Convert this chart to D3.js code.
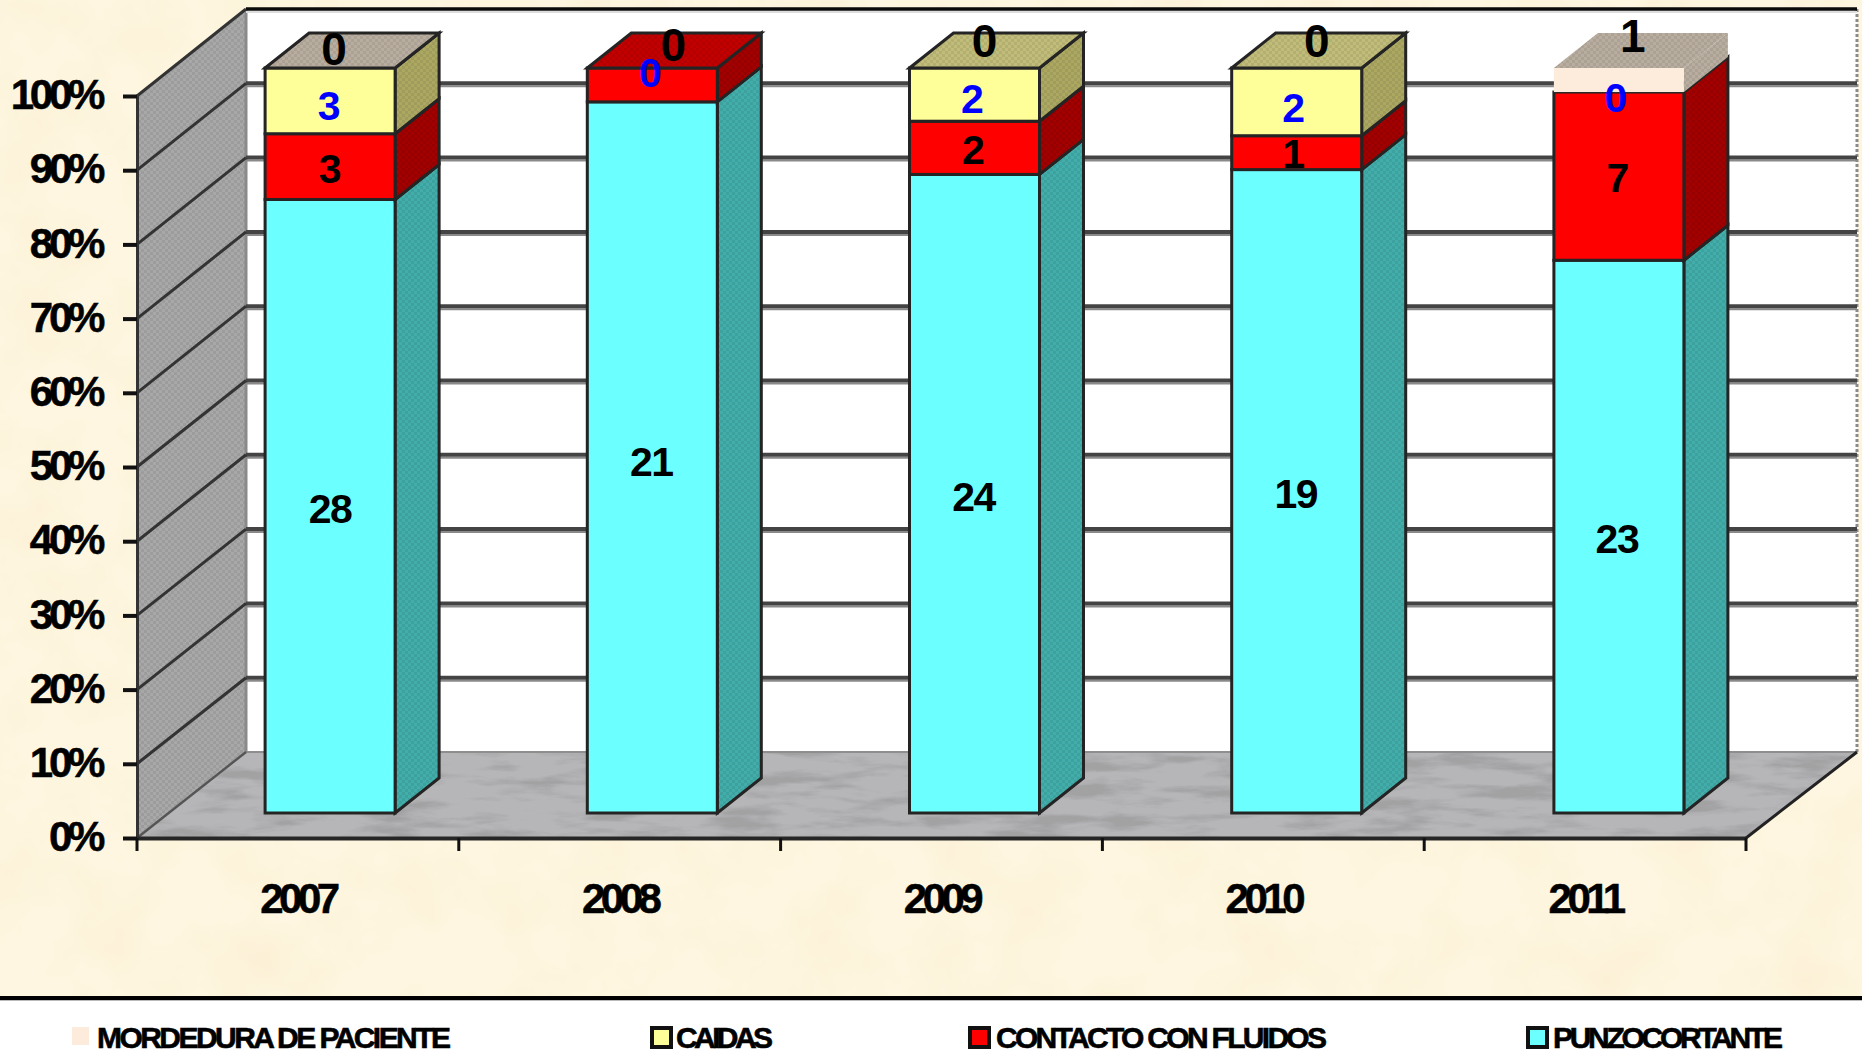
<!DOCTYPE html>
<html><head><meta charset="utf-8">
<style>html,body{margin:0;padding:0;background:#fff}svg{display:block}text{font-family:"Liberation Sans",Arial,sans-serif;font-weight:700;fill:#000}</style>
<script src="https://cdn.jsdelivr.net/npm/d3@7/dist/d3.min.js"></script>
</head><body><svg id="c" width="1862" height="1055"></svg>
<script>
// DATA
const years = ["2007","2008","2009","2010","2011"];
const punzocortante = [28,21,24,19,23];
const contacto = [3,1,2,1,7];
const caidas = [3,0,2,2,0];
const mordedura = [0,0,0,0,1];
const seriesKeys = ["PUNZOCORTANTE","CONTACTO CON FLUIDOS","CAIDAS","MORDEDURA DE PACIENTE"];
const yTickValues = [0,.1,.2,.3,.4,.5,.6,.7,.8,.9,1];
// text shown on each segment (the 2008 red segment carries no readable label)
const labelTexts = [
  ["28","21","24","19","23"],
  ["3","","2","1","7"],
  ["3","0","2","2","0"],
  ["0","0","0","0","1"]];

// STYLE
const W=1862,H=1055;
const front=["#6cffff","#ff0000","#ffff99","#fdebdc"];
const side=["#42adaa","#a30000","#aca862","#b8ad9f"];
const topFace=["#3aa6a3","#c20000","#c1bc7a","#b8ad9f"];
const topSeriesOfYear=[3,1,2,2,3];
const labelColor=["#000","#000","#0000ff","#000"];
const labelSize=[41,41,41,46];
// label centre offset from the bar centre / absolute y, as hand-placed in the original
const labelX=[[0,-1,-1,-1,-2],[0,0,-1,-3,-1],[-1,-2,-2,-3,-3],[4,21,10,20,14]];
const labelY=[[508,461,496,493,538],[168,0,149,153,177],[105,72,98,107,97],[48,44,40,40,35]];

const svg=d3.select("#c");
const defs=svg.append("defs");
function dither(id,c){
  const p=defs.append("pattern").attr("id",id).attr("width",6).attr("height",6).attr("patternUnits","userSpaceOnUse");
  p.append("rect").attr("width",6).attr("height",6).attr("fill",c);
  p.append("rect").attr("width",3).attr("height",3).attr("fill","rgba(0,0,0,.07)");
  p.append("rect").attr("x",3).attr("y",3).attr("width",3).attr("height",3).attr("fill","rgba(0,0,0,.07)");
  return `url(#${id})`;
}
const paper=defs.append("filter").attr("id","paper").attr("x",0).attr("y",0).attr("width","100%").attr("height","100%");
paper.append("feTurbulence").attr("type","fractalNoise").attr("baseFrequency",".014").attr("numOctaves",4).attr("seed",7);
paper.append("feColorMatrix").attr("values","0 0 0 0 .96  0 0 0 0 .84  0 0 0 0 .62  1.0 0 0 0 -.40");
const stone=defs.append("filter").attr("id","stone").attr("x",0).attr("y",0).attr("width","100%").attr("height","100%");
stone.append("feTurbulence").attr("type","fractalNoise").attr("baseFrequency",".014 .07").attr("numOctaves",5).attr("seed",11).attr("result","n");
stone.append("feColorMatrix").attr("in","n").attr("values","0 0 0 0 .36  0 0 0 0 .36  0 0 0 0 .37  3.6 0 0 0 -1.62").attr("result","m");
stone.append("feComposite").attr("in","m").attr("in2","SourceGraphic").attr("operator","atop");

// SCALES
const x=d3.scaleBand().domain(years).range([137,1746]);
const xBar=d3.scaleBand().domain(years).range([169,1780]);
const yFront=d3.scaleLinear().domain([0,1]).range([838,96]);
const yBack=d3.scaleLinear().domain([0,1]).range([752,9]);
const yBar=d3.scaleLinear().domain([0,1]).range([813,68]);
const depthX=109,barW=130,barDepthX=44,barDepthY=35;
const backRight=1857;
const cx=y=>xBar(y)+xBar.step()/2;
const poly=d3.line();

// BACKGROUND
svg.append("rect").attr("width",W).attr("height",998).attr("fill","#fef6e0");
svg.append("rect").attr("width",W).attr("height",998).attr("filter","url(#paper)");
svg.append("rect").attr("y",998).attr("width",W).attr("height",H-998).attr("fill","#fff");
svg.append("line").attr("x1",0).attr("x2",W).attr("y1",1000).attr("y2",1000).attr("stroke","#777").attr("stroke-width",1);
svg.append("line").attr("x1",0).attr("x2",W).attr("y1",998).attr("y2",998).attr("stroke","#000").attr("stroke-width",4);

// BACK WALL + FLOOR
const x0=x.range()[0],x1=x.range()[1];
svg.append("rect").attr("x",x0+depthX).attr("y",yBack(1)).attr("width",backRight-x0-depthX).attr("height",yBack(0)-yBack(1)).attr("fill","#fff");
svg.append("path").attr("d",poly([[x0,yFront(1)],[x0+depthX,yBack(1)],[x0+depthX,yBack(0)],[x0,yFront(0)]])).attr("fill",dither("wall","#a8a8a8"));
svg.append("path").attr("d",poly([[x0,yFront(0)],[x0+depthX,yBack(0)],[backRight,yBack(0)],[x1,yFront(0)]]))
  .attr("fill","#b6b6b8").attr("filter","url(#stone)");
svg.append("line").attr("x1",x0+depthX).attr("x2",backRight).attr("y1",yBack(0)).attr("y2",yBack(0)).attr("stroke","#8e8e8e").attr("stroke-width",2);
svg.append("line").attr("x1",x0+depthX).attr("x2",x0+depthX).attr("y1",yBack(1)).attr("y2",yBack(0)).attr("stroke","#8a8a8a").attr("stroke-width",3);
svg.append("line").attr("x1",backRight).attr("x2",backRight).attr("y1",yBack(1)).attr("y2",yBack(0)).attr("stroke","#8a8a8a").attr("stroke-width",3).attr("stroke-dasharray","3 2");

// GRID
const inner=yTickValues.filter(v=>v>0&&v<1);
const grid=svg.append("g");
grid.append("g").selectAll("line").data(inner).join("line")
  .attr("x1",x0+depthX).attr("x2",backRight).attr("y1",d=>yBack(d)+3).attr("y2",d=>yBack(d)+3).attr("stroke","#8a8a8a").attr("stroke-width",2);
grid.append("g").selectAll("line").data(inner).join("line")
  .attr("x1",x0+depthX).attr("x2",backRight).attr("y1",d=>yBack(d)).attr("y2",d=>yBack(d)).attr("stroke","#444").attr("stroke-width",4);
grid.append("line").attr("x1",x0+depthX).attr("x2",backRight).attr("y1",yBack(1)+3).attr("y2",yBack(1)+3).attr("stroke","#ddd").attr("stroke-width",2);
grid.append("line").attr("x1",x0+depthX).attr("x2",backRight).attr("y1",yBack(1)).attr("y2",yBack(1)).attr("stroke","#0a0a0a").attr("stroke-width",3.5);
svg.append("g").selectAll("line").data(yTickValues).join("line")
  .attr("x1",x0).attr("x2",x0+depthX).attr("y1",d=>yFront(d)).attr("y2",d=>yBack(d))
  .attr("stroke",d=>d===0?"#555":"#333").attr("stroke-width",d=>d===0?2.4:3);
svg.append("line").attr("x1",x1).attr("x2",backRight).attr("y1",yFront(0)).attr("y2",yBack(0)).attr("stroke","#222").attr("stroke-width",3);

// BARS
const rows=years.map((y,i)=>({year:y,[seriesKeys[0]]:punzocortante[i],[seriesKeys[1]]:contacto[i],[seriesKeys[2]]:caidas[i],[seriesKeys[3]]:mordedura[i]}));
const stacked=d3.stack().keys(seriesKeys).offset(d3.stackOffsetExpand)(rows);
const edge="#242424";
const bars=svg.append("g");
years.forEach((yr,i)=>{
  const g=bars.append("g");
  const c=cx(yr),l=c-barW/2,r=c+barW/2;
  stacked.forEach((s,si)=>{
    const [a,b]=s[i];
    const noEdge=si===3;
    if(b-a<=0) return;
    g.append("path").attr("d",poly([[r,yBar(a)],[r+barDepthX,yBar(a)-barDepthY],[r+barDepthX,yBar(b)-barDepthY],[r,yBar(b)]])+"Z")
      .attr("fill",dither(`s${i}${si}`,side[si])).attr("stroke",noEdge?"none":edge).attr("stroke-width",3);
    g.append("rect").attr("x",l).attr("width",barW).attr("y",yBar(b)).attr("height",yBar(a)-yBar(b))
      .attr("fill",front[si]).attr("stroke",noEdge?"none":edge).attr("stroke-width",3);
  });
  const ts=topSeriesOfYear[i],noEdge=ts===3&&i===4;
  g.append("path").attr("d",poly([[l,yBar(1)],[l+barDepthX,yBar(1)-barDepthY],[r+barDepthX,yBar(1)-barDepthY],[r,yBar(1)]])+"Z")
    .attr("fill",dither(`t${i}`,topFace[ts])).attr("stroke",noEdge?"none":edge).attr("stroke-width",3);
});

// AXES
const yAxis=d3.axisLeft(yFront).tickValues(yTickValues).tickFormat(d3.format(".0%")).tickSize(14).tickPadding(22);
const gy=svg.append("g").attr("transform",`translate(${x0},0)`).call(yAxis);
gy.select(".domain").attr("stroke","#333").attr("stroke-width",3);
gy.selectAll(".tick line").attr("stroke","#111").attr("stroke-width",4);
gy.selectAll("text").attr("font-size",42).attr("letter-spacing","-4.3px").attr("dy","0.3em").attr("stroke","#000").attr("stroke-width",.5).style("font-family",'"Liberation Sans"').style("font-weight",700);
const xAxis=d3.axisBottom(x).tickSize(0).tickPadding(45);
const gx=svg.append("g").attr("transform",`translate(0,${yFront(0)})`).call(xAxis);
gx.select(".domain").attr("stroke","#262626").attr("stroke-width",4);
gx.selectAll("text").attr("font-size",42).attr("letter-spacing","-4.5px").attr("stroke","#000").attr("stroke-width",.5).style("font-family",'"Liberation Sans"').style("font-weight",700);
svg.append("g").selectAll("line").data(d3.range(years.length+1)).join("line")
  .attr("x1",i=>x0+i*x.step()).attr("x2",i=>x0+i*x.step()).attr("y1",yFront(0)).attr("y2",yFront(0)+13).attr("stroke","#111").attr("stroke-width",3);

// DATA LABELS
const lab=svg.append("g").attr("text-anchor","middle");
labelTexts.forEach((row,si)=>row.forEach((t,i)=>{
  if(!t) return;
  lab.append("text").text(t).attr("x",cx(years[i])+labelX[si][i]).attr("y",labelY[si][i]).attr("dy","0.36em")
    .attr("font-size",labelSize[si]).attr("letter-spacing",t.length>1?"-1.5px":null).style("fill",labelColor[si]);
}));

// LEGEND
const legendX=[72,650,968,1526],legendTextX=[97,676,996,1553],legendLen=[354,97,331,230];
const lg=svg.append("g");
[3,2,1,0].forEach((si,k)=>{
  const noEdge=si===3;
  lg.append("rect").attr("x",legendX[k]+(noEdge?0:2)).attr("y",noEdge?1027:1028).attr("width",noEdge?17:19).attr("height",noEdge?18:19)
    .attr("fill",front[si]).attr("stroke",noEdge?"none":"#111").attr("stroke-width",4);
  lg.append("text").text(seriesKeys[si]).attr("x",legendTextX[k]).attr("y",1048).attr("font-size",30)
    .attr("stroke","#000").attr("stroke-width",.6).attr("textLength",legendLen[k]).attr("lengthAdjust","spacing");
});
</script></body></html>
